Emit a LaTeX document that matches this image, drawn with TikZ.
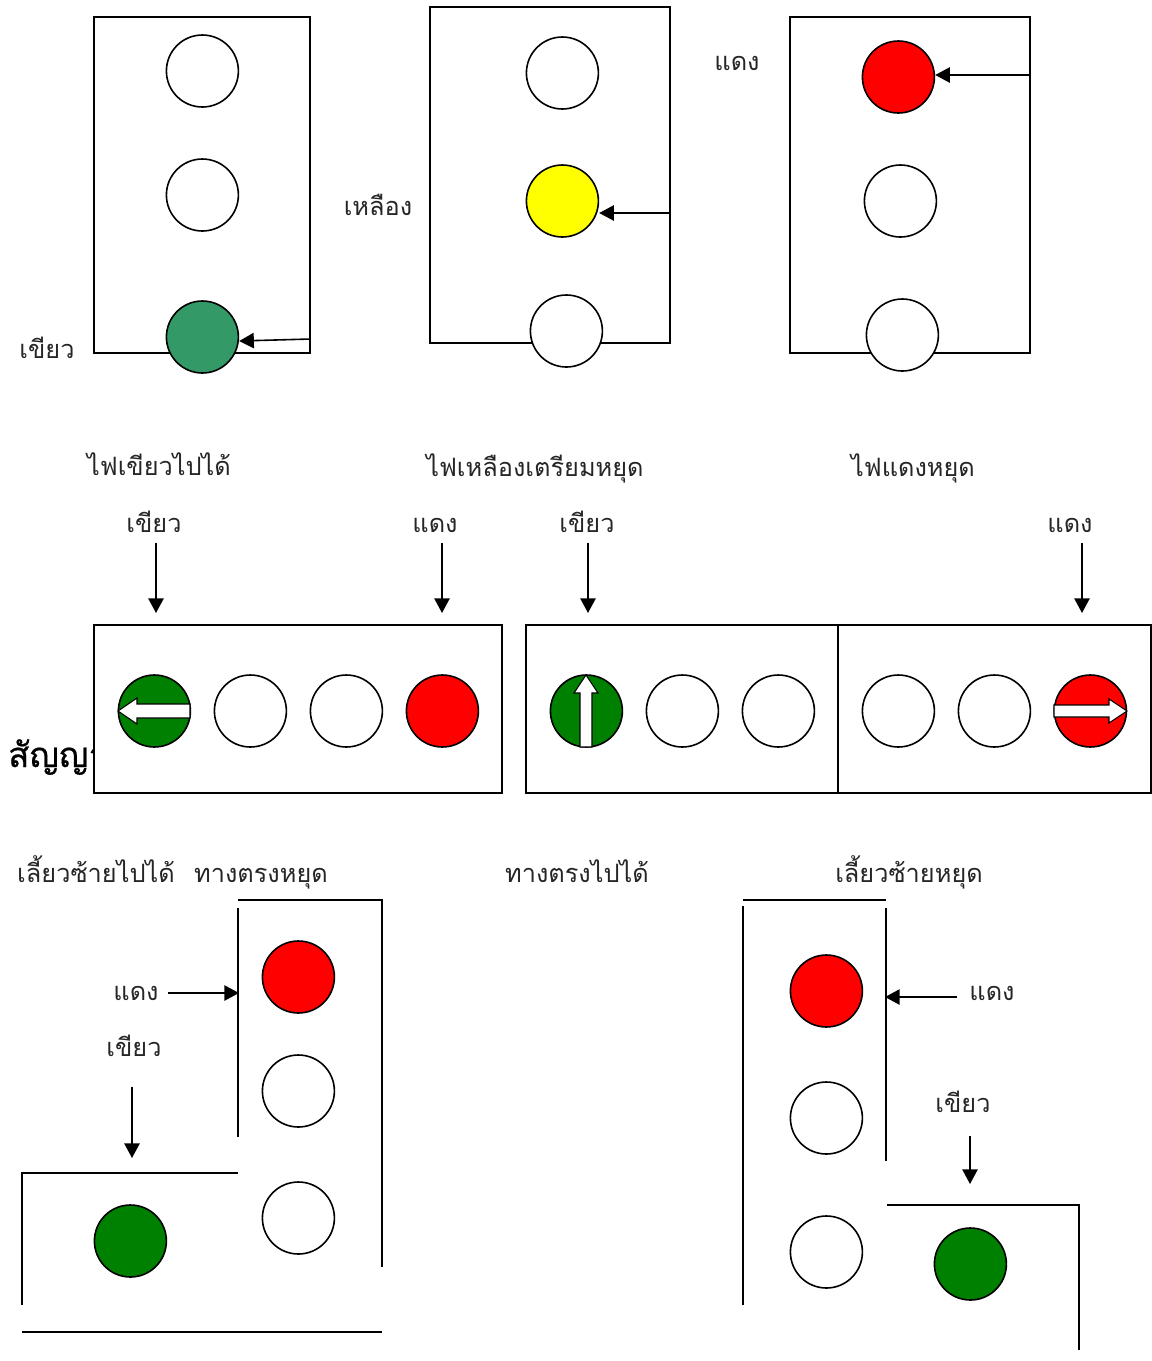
\documentclass[tikz,border=0pt]{standalone}
\usepackage{fontspec}
\setmainfont[Script=Thai]{Loma}
\newfontfamily\titlefont[Script=Thai,FakeBold=0.6]{Loma}
\usetikzlibrary{arrows.meta,positioning,calc}
\definecolor{lampgreen}{RGB}{0,128,0}
\definecolor{seagreen}{RGB}{51,153,102}
\definecolor{lampyellow}{RGB}{255,255,0}
\definecolor{lampred}{RGB}{255,0,0}
\tikzset{
  panel/.style={draw,line width=1.2pt,fill=white,inner sep=0pt},
  lamp/.style={circle,draw,line width=1.2pt,fill=white,minimum size=54pt,inner sep=0pt,xshift=.3pt},
  wall/.style={line width=1.2pt},
  pointer/.style={line width=1.2pt,-{Triangle[length=11pt,width=11.5pt]}},
  caption/.style={font=\fontsize{19}{22}\selectfont,text=black!85,inner sep=0pt,anchor=base},
  whitearrow/.style={draw,line width=.8pt,fill=white,line join=miter}
}
\begin{document}
\begin{tikzpicture}[x=.75pt,y=-.75pt]
\useasboundingbox (0,0) rectangle (1152,1361);
% Three signals
\node[panel,minimum width=162pt,minimum height=252pt] (boxgreen) at (202,185) {};
\node[panel,minimum width=180pt,minimum height=252pt] (boxyellow) at (550,175) {};
\node[panel,minimum width=180pt,minimum height=252pt] (boxred) at (910,185) {};
\node[lamp] (gtop) at (202,71) {};
\node[lamp] (gmid) at (202,195) {};
\node[lamp,fill=seagreen] (gbot) at (202,337) {};
\node[lamp] (ytop) at (562,73) {};
\node[lamp,fill=lampyellow] (ymid) at (562,201) {};
\node[lamp] (ybot) at (566,331) {};
\node[lamp,fill=lampred] (rtop) at (898,77) {};
\node[lamp] (rmid) at (900,201) {};
\node[lamp] (rbot) at (902,335) {};
\draw[pointer] (boxgreen.east |- 0,339) -- (gbot.east |- 0,341);
\draw[pointer] (boxyellow.east |- 0,213) -- (ymid.east |- 0,213);
\draw[pointer] (boxred.east |- 0,75) -- (rtop.east |- 0,75);
\node[caption] (lblgreen) at (47,358.5) {เขียว};
\node[caption] (lblyellow) at (378,215) {เหลือง};
\node[caption] (lblred) at (737,70) {แดง};
% Captions of first row
\node[caption] (capgo) at (159,475) {ไฟเขียวไปได้};
\node[caption] (capready) at (535,476) {ไฟเหลืองเตรียมหยุด};
\node[caption] (capstop) at (913,476) {ไฟแดงหยุด};
% Horizontal signals
\node[anchor=base west,inner sep=0pt,font=\fontsize{26}{29}\titlefont] (title) at (8,767) {สัญญาณ};
\node[panel,minimum width=306pt,minimum height=126pt] (stripleft) at (298,709) {};
\node[panel,minimum width=234pt,minimum height=126pt] (stripmid) at (682,709) {};
\node[panel,minimum width=234.75pt,minimum height=126pt] (stripright) at (994.5,709) {};
\foreach \nm/\xx/\cc in {sa/154/lampgreen,sb/250/white,sc/346/white,sd/442/lampred,
  se/586/lampgreen,sf/682/white,sg/778/white,sh/898/white,si/994/white,sj/1090/lampred}{
  \node[lamp,fill=\cc] (\nm) at (\xx,711) {};
}
% white arrows inside the lamps
\draw[whitearrow] (118,711) -- (137,698) -- (137,704) -- (190,704) -- (190,718) -- (137,718) -- (137,724) -- cycle;
\draw[whitearrow] (586,675) -- (598,693) -- (592,693) -- (592,747) -- (580,747) -- (580,693) -- (574,693) -- cycle;
\draw[whitearrow] (1127,711) -- (1109,699) -- (1109,705) -- (1054,705) -- (1054,717) -- (1109,717) -- (1109,723) -- cycle;
\node[caption] (lbla) at (154,532.5) {เขียว};
\node[caption] (lblb) at (435,532.5) {แดง};
\node[caption] (lblc) at (587,532.5) {เขียว};
\node[caption] (lbld) at (1070,532.5) {แดง};
\foreach \xx in {156,442,588,1082}{
  \coordinate (from\xx) at (\xx,543);
  \coordinate (to\xx) at (\xx,613);
  \draw[pointer] (from\xx) -- (to\xx);
}
% Captions of second row
\node[caption] (capleft) at (96,882) {เลี้ยวซ้ายไปได้};
\node[caption] (capahead) at (261,882) {ทางตรงหยุด};
\node[caption] (capgoahead) at (577,882) {ทางตรงไปได้};
\node[caption] (capleftstop) at (909,882) {เลี้ยวซ้ายหยุด};
% Bottom left signal
\draw[wall] (238,900) -- (382,900) -- (382,1267);
\draw[wall] (238,908) -- (238,1137);
\draw[wall] (238,1173) -- (22,1173) -- (22,1305);
\draw[wall] (22,1332) -- (382,1332);
\node[lamp,fill=lampred] (blred) at (298,977) {};
\node[lamp] (blmid) at (298,1091) {};
\node[lamp] (bllow) at (298,1218) {};
\node[lamp,fill=lampgreen] (blgreen) at (130,1241) {};
\node[caption] (lble) at (136,1000.5) {แดง};
\node[caption] (lblf) at (134,1056.5) {เขียว};
\coordinate (ered) at (168,993);
\coordinate (wallred) at (239,993);
\coordinate (fgreen) at (132,1087);
\coordinate (wallgreen) at (132,1158);
\draw[pointer] (ered) -- (wallred);
\draw[pointer] (fgreen) -- (wallgreen);
% Bottom right signal
\draw[wall] (743,900) -- (886,900);
\draw[wall] (743,906) -- (743,1305);
\draw[wall] (886,908) -- (886,1161);
\draw[wall] (887,1205) -- (1079,1205) -- (1079,1350);
\node[lamp,fill=lampred] (brred) at (826,991) {};
\node[lamp] (brmid) at (826,1118) {};
\node[lamp] (brlow) at (826,1252) {};
\node[lamp,fill=lampgreen] (brgreen) at (970,1264) {};
\node[caption] (lblg) at (992,1000.5) {แดง};
\node[caption] (lblh) at (963,1112.5) {เขียว};
\coordinate (gred) at (957,997);
\coordinate (wallredb) at (885,997);
\coordinate (hgreen) at (970,1136);
\coordinate (wallgreenb) at (970,1184);
\draw[pointer] (gred) -- (wallredb);
\draw[pointer] (hgreen) -- (wallgreenb);
\end{tikzpicture}
\end{document}
